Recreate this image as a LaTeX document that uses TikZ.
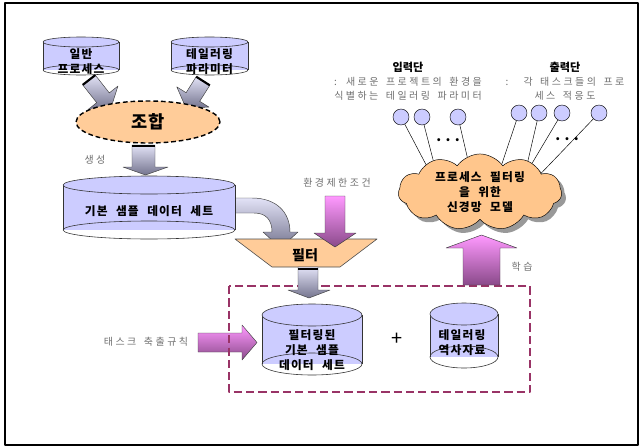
\documentclass[tikz,border=0pt]{standalone}
\usepackage{fontspec}
\setmainfont{Noto Sans CJK KR}
\newfontfamily\lblfont[LetterSpace=25,WordSpace=1.6]{Noto Sans CJK KR}
\newfontfamily\boxfont[LetterSpace=10,WordSpace=2.2]{Noto Sans CJK KR}
\usetikzlibrary{shapes.geometric,shapes.symbols,shadows}
\definecolor{drumfill}{HTML}{CCCCFF}
\definecolor{peach}{HTML}{FFCC99}
\definecolor{cloudfill}{HTML}{FFC68C}
\definecolor{txtgray}{HTML}{6E6E6E}
\definecolor{wine}{HTML}{993366}
\definecolor{grayhi}{HTML}{E2E2F6}
\definecolor{graylo}{HTML}{74748E}
\definecolor{pinkhi}{HTML}{FF99FF}
\definecolor{pinklo}{HTML}{8A4A8A}
% drum: x, top y, bottom y, half width, ry
\newcommand{\drum}[5]{%
  \fill[drumfill] ({#1-#4},#2) rectangle ({#1+#4},#3);
  \draw[drumline] (#1,#3) ellipse [x radius=#4, y radius=#5];
  \draw[drumline] ({#1-#4},#2) -- ({#1-#4},#3) ({#1+#4},#2) -- ({#1+#4},#3);
  \draw[drumline,fill=drumfill] (#1,#2) ellipse [x radius=#4, y radius=#5];}

\begin{document}
\begin{tikzpicture}[x=0.03cm,y=-0.03cm,line join=round,
  drumline/.style={draw=black!80,line width=0.5pt},
  boxtxt/.style={font=\boxfont\bfseries\fontsize{10}{12.8}\selectfont,align=center,inner sep=0pt},
  lbl/.style={font=\lblfont\fontsize{8.5}{12}\selectfont,text=txtgray,align=center,inner sep=0pt},
  title/.style={font=\bfseries\fontsize{9.5}{11}\selectfont,inner sep=0pt},
  graybar/.style={draw=black!75,line width=0.4pt,top color=grayhi,bottom color=graylo},
  pinkbar/.style={draw=black!75,line width=0.4pt,top color=pinkhi,bottom color=pinklo},
  neuron/.style={circle,draw,fill=drumfill,minimum size=0.48cm,inner sep=0pt},
  capbar/.style={line width=1.8pt,line cap=butt}]
\useasboundingbox (0,0) rectangle (643,448);
\draw[line width=1.5pt] (5,3) rectangle (638,445);

% inputs
\drum{81}{42}{70}{38}{5}
\node[boxtxt] (gp) at (81,61.5) {일반\\프로세스};
\drum{209.5}{42}{70}{38.5}{5}
\node[boxtxt] (tp) at (209.5,61.5) {테일러링\\파라미터};
\shade[graybar] (95.3,75.1) -- (109.3,92.9) -- (117.9,86.1) -- (111,108) -- (88.1,109.5) -- (96.7,102.7) -- (82.7,84.9) -- cycle;
\draw[capbar] (95.3,75.1) -- (82.7,84.9);
\shade[graybar] (196.2,76.7) -- (186.1,92.7) -- (176.8,86.9) -- (186,108) -- (209,107.1) -- (199.7,101.3) -- (209.8,85.3) -- cycle;
\draw[capbar] (196.2,76.7) -- (209.8,85.3);
\node[ellipse,draw,fill=peach,line width=1.2pt,dash pattern=on 4pt off 2.5pt,
  minimum width=4.32cm,minimum height=1.26cm,font=\bfseries\fontsize{15}{15}\selectfont] (comb) at (148,122) {조합};

% sample data
\shade[graybar] (132,145) -- (155,145) -- (155,167) -- (168,167) -- (145.5,175) -- (123,167) -- (132,167) -- cycle;
\draw[capbar] (132,146) -- (155,146);
\node[lbl] (gen) at (95,160) {생성};
\shade[graybar] (228,198) -- (252,198) .. controls (276,198) and (290,212) .. (290,232) -- (298,232) -- (280.5,248) -- (263,232) -- (272,232) .. controls (272,220) and (266,213) .. (254,213) -- (228,213) -- cycle;
\drum{149}{185}{230}{86}{9}
\node[boxtxt] (base) at (149,211) {기본 샘플 데이터 세트};

% filter
\draw[fill=peach,draw=black!70,line width=0.5pt] (235,239) -- (377,239) -- (340,267) -- (272,267) -- cycle;
\node[font=\bfseries\fontsize{12}{12}\selectfont] (filt) at (305,255) {필터};
\shade[pinkbar] (325,196) -- (345,196) -- (345,233) -- (356,233) -- (335,247) -- (314,233) -- (325,233) -- cycle;
\node[lbl] (envc) at (337,183) {환경제한조건};

% filtered data
\shade[pinkbar] (198,333) -- (242,333) -- (242,325) -- (257,342.5) -- (242,360) -- (242,352) -- (198,352) -- cycle;
\node[lbl] (rule) at (146,342) {태스크 축출규칙};
\draw[wine,line width=1.8pt,dash pattern=on 7pt off 3.5pt] (229,286) rectangle (530,392);
\shade[graybar] (298,267) -- (318,267) -- (318,290) -- (330,290) -- (309,298) -- (288,290) -- (298,290) -- cycle;
\draw[capbar] (298,269) -- (318,269);
\drum{312}{315}{364}{50}{11}
\node[boxtxt] (fbase) at (312,350.5) {필터링된\\기본 샘플\\데이터 세트};
\node[font=\fontsize{17}{17}\selectfont] (plus) at (397,339) {+};
\drum{464}{314}{357}{34}{11}
\node[boxtxt] (hist) at (462,342.5) {테일러링\\역사자료};

% network
\shade[pinkbar] (463,285) -- (463,248) -- (446,248) -- (481.5,235) -- (517,248) -- (500,248) -- (500,285) -- cycle;
\node[lbl] (learn) at (522,267) {학습};
\node[cloud,cloud puffs=11,cloud puff arc=110,aspect=2.4,draw,fill=cloudfill,
  minimum width=4.9cm,minimum height=2.1cm,boxtxt,
  drop shadow={shadow xshift=1.3mm,shadow yshift=-1.3mm,fill=black!40,opacity=1}] (cloud) at (480,192)
  {프로세스 필터링\\을 위한\\신경망 모델};
\foreach \n/\x in {i1/401,i2/422,i3/458} \node[neuron] (\n) at (\x,117) {};
\foreach \n/\x in {o1/519,o2/539,o3/562,o4/599} \node[neuron] (\n) at (\x,113) {};
\foreach \n/\a in {i1/153,i2/146,i3/110,o1/52,o2/33,o3/29,o4/17} \draw (\n) -- (cloud.\a);
\node[font=\bfseries\fontsize{12}{12}\selectfont] (idots) at (448,140) {. . .};
\node[font=\bfseries\fontsize{12}{12}\selectfont] (odots) at (567,139) {. . .};
\node[title] (intitle) at (408,67) {입력단};
\node[lbl] (indesc) at (408,89) {: 새로운 프로젝트의 환경을\\식별하는 테일러링 파라미터};
\node[title] (outtitle) at (565,67) {출력단};
\node[lbl] (outdesc) at (565,89) {:\ \ 각 태스크들의 프로\\세스 적응도};
\end{tikzpicture}
\end{document}
